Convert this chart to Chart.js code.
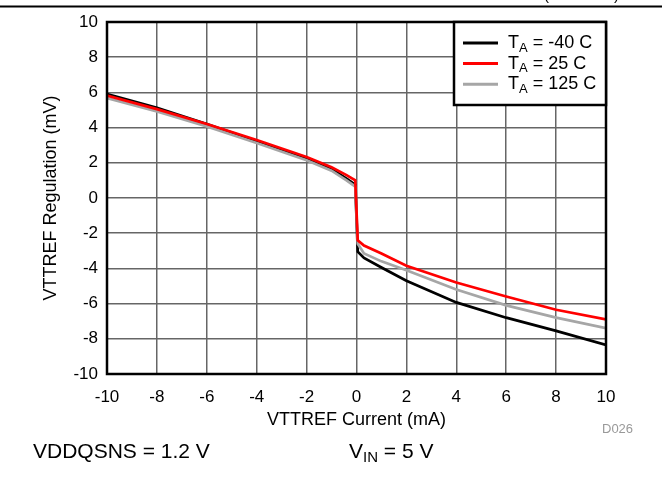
<!DOCTYPE html>
<html>
<head>
<meta charset="utf-8">
<script src="https://cdn.jsdelivr.net/npm/chart.js@4"></script>
<style>
  html, body { margin: 0; padding: 0; background: #fff; }
  #wrap { width: 671px; height: 484px; }
</style>
</head>
<body>
<div id="wrap"><canvas id="mychart" width="671" height="484"></canvas></div>
<script>
// VTTREF current (mA) and regulation (mV)
var currents = [-10, -8, -6, -4, -2, -1, -0.4, -0.05, 0.05, 0.3, 1, 2, 4, 6, 8, 10];
var regM40  = [5.9, 5.12, 4.2, 3.22, 2.23, 1.65, 1.1, 0.75, -3.05, -3.4, -3.95, -4.7, -5.93, -6.8, -7.55, -8.35];
var reg25   = [5.82, 5.05, 4.2, 3.3, 2.33, 1.75, 1.3, 1.0, -2.4, -2.7, -3.15, -3.85, -4.8, -5.6, -6.35, -6.9];
var reg125  = [5.68, 4.92, 4.07, 3.12, 2.14, 1.55, 1.0, 0.65, -2.6, -3.15, -3.6, -4.1, -5.2, -6.1, -6.8, -7.4];
var temps = ['-40', '25', '125'];
var colors = ['#000000', '#ff0000', '#a6a6a6'];
var xTitle = 'VTTREF Current (mA)';
var yTitle = 'VTTREF Regulation (mV)';
var noteLeft = 'VDDQSNS = 1.2 V';
var noteRight = ['V', 'IN', ' = 5 V'];
var figId = 'D026';
var header = '(continued)';

var FONT = '"Liberation Sans", Arial, sans-serif';

function pts(ys) {
    return currents.map(function (x, i) { return { x: x, y: ys[i] }; });
}

// draws text with a subscript part, returns end x
function subText(ctx, x, y, main, sub, rest, size) {
    ctx.font = size + 'px ' + FONT;
    ctx.fillText(main, x, y);
    x += ctx.measureText(main).width;
    var s = Math.round(size * 0.72);
    ctx.font = s + 'px ' + FONT;
    ctx.fillText(sub, x, y + size * 0.28);
    x += ctx.measureText(sub).width;
    ctx.font = size + 'px ' + FONT;
    ctx.fillText(rest, x, y);
    return x + ctx.measureText(rest).width;
}

var decor = {
    id: 'decor',
    afterDraw: function (chart) {
        var ctx = chart.ctx;
        var a = chart.chartArea;
        ctx.save();
        // plot frame
        ctx.strokeStyle = '#000';
        ctx.lineWidth = 2.5;
        ctx.strokeRect(a.left, a.top, a.right - a.left, a.bottom - a.top);

        // legend box, top right inside the plot
        var bx = a.left + 347, by = a.top, bw = a.right - bx, bh = 83;
        ctx.fillStyle = '#fff';
        ctx.fillRect(bx, by, bw, bh);
        ctx.strokeRect(bx, by, bw, bh);
        ctx.textBaseline = 'middle';
        ctx.textAlign = 'left';
        chart.data.datasets.forEach(function (ds, i) {
            var ly = by + 21 + i * 20.6;
            ctx.strokeStyle = ds.borderColor;
            ctx.lineWidth = 3;
            ctx.beginPath();
            ctx.moveTo(bx + 9, ly);
            ctx.lineTo(bx + 44, ly);
            ctx.stroke();
            ctx.fillStyle = '#000';
            subText(ctx, bx + 54, ly, 'T', 'A', ' = ' + temps[i] + ' C', 18);
        });

        // header rule from the datasheet page (text cut off above)
        ctx.strokeStyle = '#000';
        ctx.lineWidth = 2;
        ctx.beginPath();
        ctx.moveTo(0, 6.5);
        ctx.lineTo(662, 6.5);
        ctx.stroke();
        ctx.fillStyle = '#000';
        ctx.font = '15px ' + FONT;
        ctx.textAlign = 'right';
        ctx.textBaseline = 'alphabetic';
        ctx.fillText(header, 619, -0.5);

        // figure id and conditions
        ctx.textAlign = 'left';
        ctx.textBaseline = 'middle';
        ctx.fillStyle = '#999';
        ctx.font = '13px ' + FONT;
        ctx.fillText(figId, 602, 429);
        ctx.fillStyle = '#000';
        ctx.font = '21px ' + FONT;
        ctx.fillText(noteLeft, 33, 452);
        subText(ctx, 349, 452, noteRight[0], noteRight[1], noteRight[2], 21);
        ctx.restore();
    }
};

var datasets = [regM40, reg25, reg125].map(function (ys, i) {
    return {
        label: 'TA = ' + temps[i] + ' C',
        data: pts(ys),
        borderColor: colors[i],
        backgroundColor: colors[i],
        borderWidth: 2.7,
        pointRadius: 0,
        tension: 0,
        order: [2, 0, 1][i]
    };
});

var config = {
    type: 'line',
    data: { datasets: datasets },
    options: {
        responsive: false,
        animation: false,
        layout: { padding: { left: 0, top: 22, right: 65, bottom: 0 } },
        plugins: { legend: { display: false }, tooltip: { enabled: false } },
        scales: {
            x: {
                type: 'linear',
                min: -10, max: 10,
                ticks: { stepSize: 2, color: '#000', padding: 13, font: { family: FONT, size: 17 } },
                grid: { color: '#666', lineWidth: 1.5, drawTicks: false },
                border: { display: false },
                title: { display: true, text: xTitle, color: '#000', font: { family: FONT, size: 18 }, padding: { top: 0, bottom: 53 } },
                afterFit: function (s) { s.height = 110; }
            },
            y: {
                type: 'linear',
                min: -10, max: 10,
                ticks: { stepSize: 2, color: '#000', padding: 9, font: { family: FONT, size: 17 } },
                grid: { color: '#666', lineWidth: 1.5, drawTicks: false },
                border: { display: false },
                title: { display: true, text: yTitle, color: '#000', font: { family: FONT, size: 18 }, padding: { top: 40, bottom: 0 } },
                afterFit: function (s) { s.width = 107; }
            }
        }
    },
    plugins: [decor]
};

var ctx = document.getElementById('mychart').getContext('2d');
window.myLine = new Chart(ctx, config);
</script>
</body>
</html>
